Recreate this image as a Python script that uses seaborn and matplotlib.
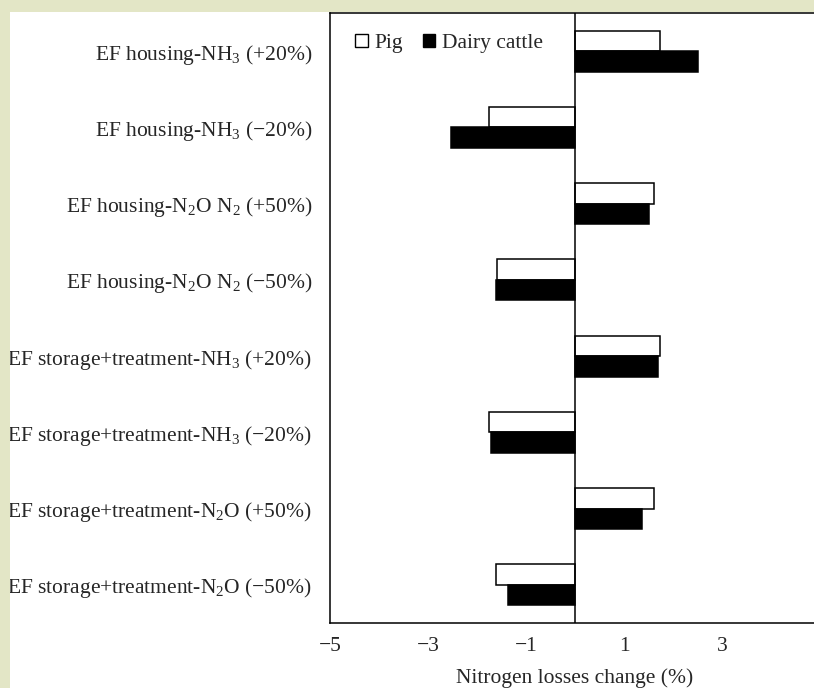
import matplotlib
matplotlib.use("Agg")
import matplotlib.pyplot as plt
from matplotlib.patches import Rectangle, Patch
import numpy as np
import pandas as pd
import seaborn as sns

sns.set_style("white")
plt.rcParams["font.family"] = ["Liberation Serif", "DejaVu Serif"]
plt.rcParams["mathtext.fontset"] = "custom"
plt.rcParams["mathtext.rm"] = "Liberation Serif"
plt.rcParams["mathtext.it"] = "Liberation Serif:italic"
plt.rcParams["font.size"] = 15.5

# chart data
scenarios = [
    r"EF housing-NH$_3$ (+20%)",
    r"EF housing-NH$_3$ (−20%)",
    r"EF housing-N$_2$O N$_2$ (+50%)",
    r"EF housing-N$_2$O N$_2$ (−50%)",
    r"EF storage+treatment-NH$_3$ (+20%)",
    r"EF storage+treatment-NH$_3$ (−20%)",
    r"EF storage+treatment-N$_2$O (+50%)",
    r"EF storage+treatment-N$_2$O (−50%)",
]
pig = [1.73, -1.76, 1.61, -1.60, 1.74, -1.76, 1.61, -1.61]
dairy = [2.51, -2.53, 1.51, -1.61, 1.70, -1.72, 1.37, -1.37]
animals = ["Pig", "Dairy cattle"]
xticks = [-5, -3, -1, 1, 3]

df = pd.DataFrame({
    "scenario": scenarios * 2,
    "change": pig + dairy,
    "animal": [animals[0]] * len(pig) + [animals[1]] * len(dairy),
})

fig = plt.figure(figsize=(8.14, 6.88), dpi=100, facecolor="white")
# beige frame strips on top and left
fig.patches.append(Rectangle((0, 0), 10 / 814, 1, transform=fig.transFigure,
                             facecolor="#e3e6c6", edgecolor="none", zorder=0))
fig.patches.append(Rectangle((0, 1 - 12 / 688), 1, 12 / 688, transform=fig.transFigure,
                             facecolor="#e3e6c6", edgecolor="none", zorder=0))

ax = fig.add_axes([330 / 814, 65 / 688, 490 / 814, 610 / 688])
sns.barplot(data=df, y="scenario", x="change", hue="animal", hue_order=animals,
            order=scenarios, palette={"Pig": "white", "Dairy cattle": "black"},
            edgecolor="black", linewidth=1.1, width=0.54, gap=0, ax=ax,
            legend=False)

ax.axvline(0, color="black", lw=1.1, zorder=5)
ax.set_xlim(-5, 5)
ax.set_ylim(7.5, -0.5)
ax.set_xticks(xticks)
ax.set_xticklabels([str(t).replace("-", "−") for t in xticks])
ax.tick_params(axis="x", direction="in", length=5, width=1, color="black", pad=10,
               labelsize=15.5)
ax.tick_params(axis="y", length=0, pad=13, labelsize=15.5)
ax.set_xlabel("Nitrogen losses change (%)", fontsize=15.5, labelpad=9)
ax.set_ylabel("")
for s in ax.spines.values():
    s.set_visible(True)
    s.set_color("black")
    s.set_linewidth(1.1)

handles = [Patch(facecolor="white", edgecolor="black", linewidth=1),
           Patch(facecolor="black", edgecolor="black", linewidth=1)]
ax.legend(handles, animals, loc="upper left", ncol=2, frameon=False,
          handlelength=0.6, handleheight=0.6, handletextpad=0.3,
          columnspacing=0.9, fontsize=15.5, bbox_to_anchor=(0.012, 0.998))

fig.savefig("out.png", dpi=100, facecolor="white")
